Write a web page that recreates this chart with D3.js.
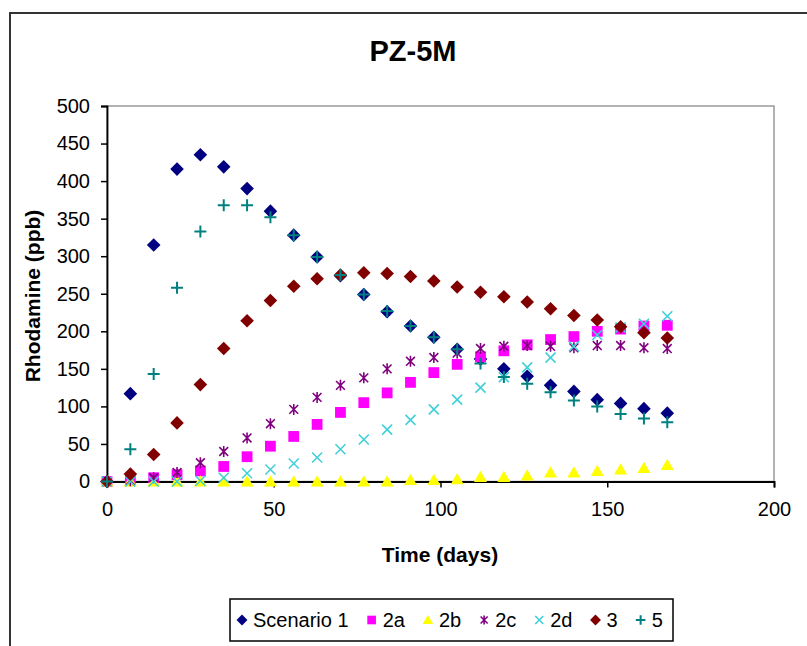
<!DOCTYPE html>
<html>
<head>
<meta charset="utf-8">
<script src="https://cdn.jsdelivr.net/npm/d3@7"></script>
<style>
  html, body { margin: 0; padding: 0; background: #fff; }
  svg { display: block; }
  text { font-family: "Liberation Sans", Arial, sans-serif; fill: #000; }
</style>
</head>
<body>
<svg id="chart" width="807" height="646"></svg>
<script>
// Sampling days (weekly)
const days = [0, 7, 14, 21, 28, 35, 42, 49, 56, 63, 70, 77, 84, 91, 98, 105, 112, 119, 126, 133, 140, 147, 154, 161, 168];

// Rhodamine concentration (ppb) per scenario
const scenario1 = [0, 117, 315, 416, 435, 419, 390, 360, 328, 299, 274, 249, 226, 207, 192, 176, 163, 150, 140, 128, 120, 109, 104, 97, 91];
const scenario2a = [0, 1, 5, 9, 14, 20, 33, 47, 60, 76, 92, 105, 118, 132, 145, 156, 166, 174, 182, 189, 193, 200, 203, 207, 208];
const scenario2b = [0, 0, 0, 0, 0, 0, 0, 0, 0, 0, 0, 0, 0, 2, 2, 3, 6, 6, 8, 12, 12, 14, 16, 18, 22];
const scenario2c = [0, 1, 5, 12, 25, 40, 58, 77, 96, 112, 128, 138, 150, 160, 165, 171, 177, 180, 181, 180, 178, 181, 181, 178, 177];
const scenario2d = [0, 0, 0, 0, 1, 5, 11, 16, 24, 32, 43, 56, 69, 82, 96, 109, 125, 139, 152, 165, 180, 195, 205, 210, 220];
const scenario3 = [0, 10, 36, 78, 129, 177, 214, 241, 260, 270, 275, 278, 277, 273, 267, 259, 252, 246, 239, 230, 221, 215, 206, 198, 191];
const scenario5 = [0, 43, 143, 258, 333, 368, 368, 352, 328, 299, 275, 249, 227, 207, 192, 176, 157, 139, 130, 119, 108, 100, 90, 84, 79];

const seriesNames = ["Scenario 1", "2a", "2b", "2c", "2d", "3", "5"];
const seriesValues = [scenario1, scenario2a, scenario2b, scenario2c, scenario2d, scenario3, scenario5];
const seriesColors = ["#000080", "#FF00FF", "#FFFF00", "#800080", "#40D0D8", "#800000", "#008080"];
const seriesShapes = ["diamond", "square", "triangle", "asterisk", "cross", "diamond", "plus"];

const xTicks = [0, 50, 100, 150, 200];
const yTicks = [0, 50, 100, 150, 200, 250, 300, 350, 400, 450, 500];

const svg = d3.select("#chart");

// Outer chart frame
svg.append("rect")
  .attr("x", 10).attr("y", 13).attr("width", 830).attr("height", 700)
  .attr("fill", "#fff").attr("stroke", "#333").attr("stroke-width", 2);

const plot = { left: 107, right: 774, top: 106, bottom: 481.5 };
const x = d3.scaleLinear().domain([0, 200]).range([plot.left, plot.right]);
const y = d3.scaleLinear().domain([0, 500]).range([plot.bottom, plot.top]);

// Plot area border
svg.append("rect")
  .attr("x", plot.left).attr("y", plot.top)
  .attr("width", plot.right - plot.left).attr("height", plot.bottom - plot.top)
  .attr("fill", "#fff").attr("stroke", "#999").attr("stroke-width", 1.5);

// Title
svg.append("text")
  .attr("x", 413).attr("y", 61)
  .attr("text-anchor", "middle")
  .style("font-size", "29px").style("font-weight", "bold")
  .text("PZ-5M");

// Axes
const xAxis = d3.axisBottom(x).tickValues(xTicks).tickSize(6).tickPadding(14).tickFormat(d3.format("d"));
const yAxis = d3.axisLeft(y).tickValues(yTicks).tickSize(6).tickPadding(11).tickFormat(d3.format("d"));

const gx = svg.append("g").attr("transform", `translate(0,${plot.bottom})`).call(xAxis);
const gy = svg.append("g").attr("transform", `translate(${plot.left},0)`).call(yAxis);
[gx, gy].forEach(g => {
  g.select(".domain").attr("stroke", "#000").attr("stroke-width", 1.8);
  g.selectAll(".tick line").attr("stroke", "#000").attr("stroke-width", 1.5);
  g.selectAll(".tick text")
    .attr("fill", "#111")
    .style("font-family", "'Liberation Sans', Arial, sans-serif")
    .style("font-size", "20px");
});

// Axis titles
svg.append("text")
  .attr("x", 440).attr("y", 562)
  .attr("text-anchor", "middle")
  .style("font-size", "21px").style("font-weight", "bold")
  .text("Time (days)");

svg.append("text")
  .attr("transform", "translate(40,296) rotate(-90)")
  .attr("text-anchor", "middle")
  .style("font-size", "21px").style("font-weight", "bold")
  .text("Rhodamine (ppb)");

// Marker shapes
function markerPath(shape, s) {
  const p = d3.path();
  if (shape === "diamond") {
    p.moveTo(0, -s); p.lineTo(s, 0); p.lineTo(0, s); p.lineTo(-s, 0); p.closePath();
  } else if (shape === "square") {
    p.rect(-s, -s, 2 * s, 2 * s);
  } else if (shape === "triangle") {
    p.moveTo(0, -s); p.lineTo(s * 1.05, s * 0.8); p.lineTo(-s * 1.05, s * 0.8); p.closePath();
  } else if (shape === "cross") {
    p.moveTo(-s, -s); p.lineTo(s, s); p.moveTo(s, -s); p.lineTo(-s, s);
  } else if (shape === "asterisk") {
    p.moveTo(-s * 0.8, -s * 0.8); p.lineTo(s * 0.8, s * 0.8);
    p.moveTo(s * 0.8, -s * 0.8); p.lineTo(-s * 0.8, s * 0.8);
    p.moveTo(0, -s); p.lineTo(0, s);
  } else if (shape === "plus") {
    p.moveTo(-s, 0); p.lineTo(s, 0); p.moveTo(0, -s); p.lineTo(0, s);
  }
  return p.toString();
}
const markerSize = { diamond: 6.8, square: 5.4, triangle: 6.2, cross: 5, asterisk: 5.5, plus: 6 };
const filled = { diamond: true, square: true, triangle: true, cross: false, asterisk: false, plus: false };

function styleMarker(sel, shape, color) {
  if (filled[shape]) {
    sel.attr("fill", color).attr("stroke", "none");
  } else {
    sel.attr("fill", "none").attr("stroke", color)
      .attr("stroke-width", shape === "plus" ? 2 : 1.6);
  }
}

// Data points, drawn series by series
seriesValues.forEach((vals, i) => {
  const shape = seriesShapes[i];
  const g = svg.append("g").attr("class", "series");
  const pts = g.selectAll("path")
    .data(days.map((d, j) => ({ t: d, v: vals[j] })))
    .join("path")
    .attr("transform", d => `translate(${x(d.t)},${y(d.v)})`)
    .attr("d", markerPath(shape, markerSize[shape]));
  styleMarker(pts, shape, seriesColors[i]);
});

// Legend
const legend = svg.append("g");
legend.append("rect")
  .attr("x", 230).attr("y", 599).attr("width", 443).attr("height", 42)
  .attr("fill", "#fff").attr("stroke", "#000").attr("stroke-width", 1.5);

let lx = 242;
const ly = 620;
seriesNames.forEach((name, i) => {
  const shape = seriesShapes[i];
  const m = legend.append("path")
    .attr("transform", `translate(${lx},${ly})`)
    .attr("d", markerPath(shape, markerSize[shape] * 0.8));
  styleMarker(m, shape, seriesColors[i]);
  const t = legend.append("text")
    .attr("x", lx + 11).attr("y", ly + 7)
    .style("font-size", "20px")
    .text(name);
  lx += 11 + t.node().getComputedTextLength() + 23;
});
</script>
</body>
</html>
